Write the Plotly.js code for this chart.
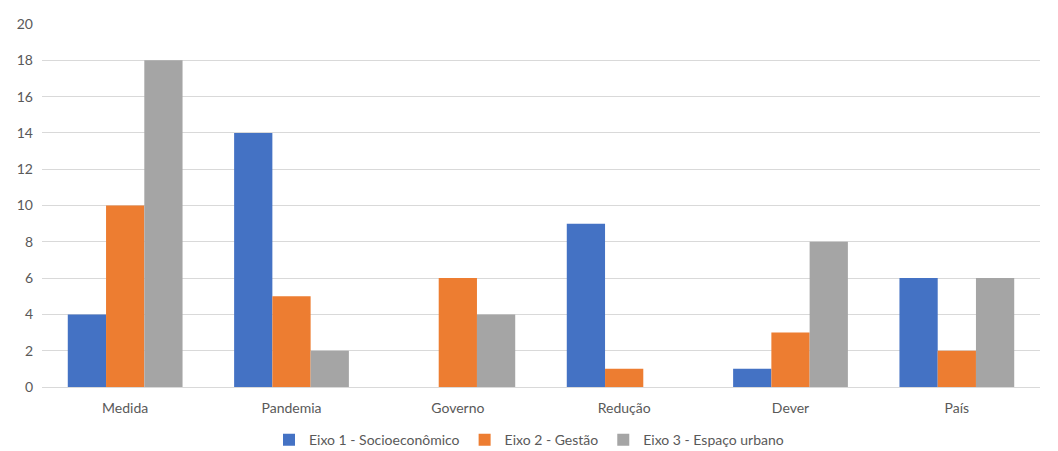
<!DOCTYPE html>
<html><head><meta charset="utf-8">
<script src="https://cdn.plot.ly/plotly-3.0.1.min.js"></script>
<style>html,body{margin:0;padding:0;background:#fff}#chart{width:1058px;height:451px}</style>
</head><body><div id="chart"></div>
<script>
const categories = ["Medida", "Pandemia", "Governo", "Redução", "Dever", "País"];
const eixo1 = [4, 14, 0, 9, 1, 6];
const eixo2 = [10, 5, 6, 1, 3, 2];
const eixo3 = [18, 2, 4, 0, 8, 6];
const seriesNames = ["Eixo 1 - Socioeconômico", "Eixo 2 - Gestão", "Eixo 3 - Espaço urbano"];
const colors = ["#4472C4", "#ED7D31", "#A5A5A5"];
const yTicks = [0, 2, 4, 6, 8, 10, 12, 14, 16, 18, 20];

const data = [eixo1, eixo2, eixo3].map((v, i) => ({
  type: "bar", x: categories, y: v, name: seriesNames[i],
  marker: {color: colors[i]}, hoverinfo: "x+y"
}));

const layout = {
  width: 1058, height: 451,
  margin: {l: 42, r: 18, t: 24, b: 64},
  paper_bgcolor: "#fff", plot_bgcolor: "#fff",
  font: {family: "Lato, 'Open Sans', sans-serif", size: 14, color: "#595959"},
  barmode: "group", bargap: 0.31, bargroupgap: 0,
  xaxis: {showgrid: false, showline: true, linecolor: "#D9D9D9", linewidth: 1,
          ticks: "", ticklabelstandoff: 8, automargin: false,
          tickfont: {size: 14, color: "#595959"}},
  yaxis: {range: [0, 20], tickvals: yTicks, showgrid: true, gridcolor: "#D9D9D9",
          zeroline: false, showline: false, ticks: "", ticklen: 0, automargin: false,
          ticklabelstandoff: 8, tickfont: {size: 14, color: "#595959"}},
  showlegend: true,
  legend: {orientation: "h", x: 0.5, xref: "container", xanchor: "center",
           y: 0.024, yref: "container", yanchor: "middle",
           font: {size: 14, color: "#595959"}, itemwidth: 30, traceorder: "normal"}
};
Plotly.newPlot("chart", data, layout, {displayModeBar: false, staticPlot: true});
</script></body></html>
